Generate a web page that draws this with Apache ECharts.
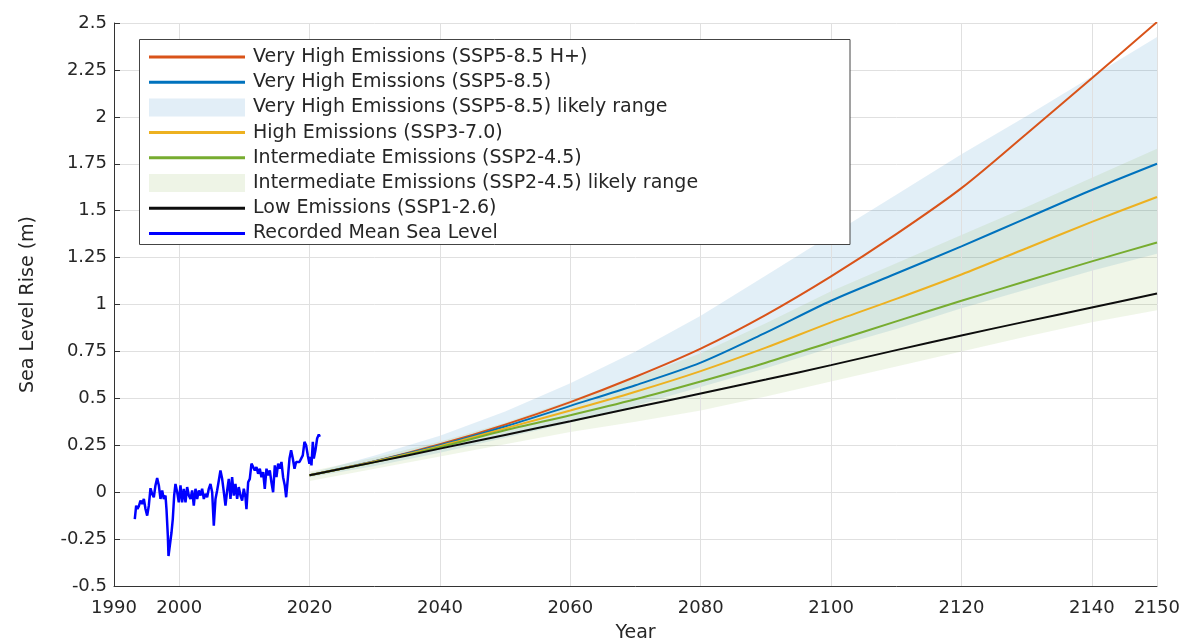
<!DOCTYPE html>
<html>
<head>
<meta charset="utf-8">
<script src="https://cdn.jsdelivr.net/npm/echarts@6.0.0/dist/echarts.min.js"></script>
<style>
html,body{margin:0;padding:0;background:#fff;}
#chart{width:1184px;height:643px;}
</style>
</head>
<body>
<div id="chart"></div>
<script>
// ---------- data ----------
const xTickLabels = [1990, 2000, 2020, 2040, 2060, 2080, 2100, 2120, 2140, 2150];
const yTickLabels = [-0.5, -0.25, 0, 0.25, 0.5, 0.75, 1, 1.25, 1.5, 1.75, 2, 2.25, 2.5];
const gridYears = [2000, 2020, 2040, 2060, 2080, 2100, 2120, 2140, 2150];

const projYears = [2020, 2030, 2040, 2050, 2060, 2070, 2080, 2090, 2100, 2110, 2120, 2130, 2140, 2150];
const ssp585Hplus = [0.09, 0.165, 0.255, 0.36, 0.48, 0.615, 0.765, 0.945, 1.15, 1.375, 1.62, 1.91, 2.205, 2.505];
const ssp585      = [0.09, 0.165, 0.25, 0.35, 0.46, 0.57, 0.69, 0.85, 1.02, 1.165, 1.31, 1.46, 1.61, 1.75];
const ssp370      = [0.09, 0.163, 0.245, 0.34, 0.435, 0.535, 0.645, 0.77, 0.905, 1.03, 1.16, 1.30, 1.44, 1.573];
const ssp245      = [0.09, 0.16, 0.24, 0.33, 0.41, 0.495, 0.59, 0.69, 0.80, 0.91, 1.02, 1.125, 1.23, 1.33];
const ssp126      = [0.09, 0.16, 0.232, 0.305, 0.378, 0.452, 0.526, 0.60, 0.677, 0.757, 0.835, 0.91, 0.984, 1.059];

const ssp585Low   = [0.08, 0.14, 0.21, 0.29, 0.37, 0.46, 0.56, 0.66, 0.77, 0.87, 0.98, 1.08, 1.18, 1.27];
const ssp585High  = [0.10, 0.195, 0.30, 0.43, 0.58, 0.75, 0.94, 1.155, 1.37, 1.585, 1.80, 2.005, 2.215, 2.425];
const ssp245Low   = [0.06, 0.125, 0.19, 0.255, 0.32, 0.375, 0.435, 0.51, 0.59, 0.67, 0.75, 0.83, 0.905, 0.97];
const ssp245High  = [0.11, 0.185, 0.27, 0.37, 0.49, 0.61, 0.74, 0.90, 1.07, 1.22, 1.37, 1.52, 1.675, 1.83];

const recYears = [1993.19,1993.40,1993.60,1993.81,1994.06,1994.32,1994.58,1994.83,1995.09,1995.34,1995.60,1995.85,
  1996.11,1996.36,1996.62,1996.88,1997.13,1997.39,1997.64,1997.90,1998.05,1998.26,1998.36,1998.56,1998.82,1999.02,
  1999.23,1999.43,1999.69,1999.94,2000.20,2000.45,2000.71,2000.97,2001.22,2001.48,2001.73,2001.99,2002.24,2002.50,
  2002.76,2003.01,2003.27,2003.52,2003.78,2004.03,2004.29,2004.54,2004.80,2005.06,2005.31,2005.57,2005.82,2006.08,
  2006.33,2006.59,2006.85,2007.10,2007.36,2007.61,2007.87,2008.12,2008.38,2008.63,2008.89,2009.14,2009.40,2009.66,
  2009.91,2010.17,2010.32,2010.58,2010.83,2011.09,2011.34,2011.60,2011.85,2012.11,2012.37,2012.62,2012.88,2013.13,
  2013.39,2013.64,2013.90,2014.15,2014.41,2014.67,2014.92,2015.18,2015.43,2015.69,2015.94,2016.20,2016.41,2016.66,
  2016.92,2017.17,2017.43,2017.69,2017.94,2018.20,2018.45,2018.71,2018.96,2019.22,2019.47,2019.73,2019.98,2020.14,
  2020.29,2020.50,2020.65,2020.90,2021.16,2021.42,2021.57];
const recValues = [-0.143,-0.072,-0.090,-0.075,-0.045,-0.063,-0.036,-0.090,-0.125,-0.072,0.021,-0.009,
  -0.027,0.036,0.075,0.036,-0.036,0.009,-0.036,-0.018,-0.090,-0.233,-0.340,-0.286,-0.215,-0.143,
  -0.018,0.044,0.0,-0.054,0.036,-0.054,0.018,-0.054,0.027,-0.018,-0.036,0.009,-0.072,0.018,
  -0.036,0.009,-0.018,0.018,-0.036,-0.009,-0.027,0.018,0.044,0.0,-0.179,-0.036,0.009,0.062,
  0.116,0.071,0.0,-0.072,0.009,0.071,-0.036,0.080,-0.018,0.044,-0.036,0.027,-0.018,-0.045,
  0.018,-0.027,-0.090,0.053,0.071,0.152,0.161,0.116,0.134,0.098,0.125,0.080,0.107,0.018,
  0.125,0.089,0.116,0.053,0.0,0.143,0.080,0.152,0.125,0.161,0.080,0.036,-0.027,0.071,
  0.179,0.223,0.179,0.125,0.161,0.170,0.161,0.179,0.196,0.268,0.250,0.196,0.152,0.188,
  0.143,0.268,0.179,0.223,0.286,0.307,0.295];

const names = {
  hplus: 'Very High Emissions (SSP5-8.5 H+)',
  s585: 'Very High Emissions (SSP5-8.5)',
  s585r: 'Very High Emissions (SSP5-8.5) likely range',
  s370: 'High Emissions (SSP3-7.0)',
  s245: 'Intermediate Emissions (SSP2-4.5)',
  s245r: 'Intermediate Emissions (SSP2-4.5) likely range',
  s126: 'Low Emissions (SSP1-2.6)',
  rec: 'Recorded Mean Sea Level'
};

// ---------- build ----------
const pairs = (xs, ys) => xs.map((x, i) => [x, ys[i]]);
const FONT = 'DejaVu Sans';
const TXT = '#262626';
const colors = {
  hplus: '#D95319', s585: '#0072BD', s370: '#EDB120', s245: '#77AC30', s126: '#0d0d0d', rec: '#0000FF',
  s585r: 'rgba(0,114,189,0.115)', s245r: 'rgba(119,172,48,0.11)'
};
const SMOOTH = 0.3;

function lineSeries(name, ys, color) {
  return {
    name, type: 'line', data: pairs(projYears, ys), color, symbol: 'none', smooth: SMOOTH,
    lineStyle: { width: 2, color }, z: 5, silent: true
  };
}
function bandSeries(key, lo, hi) {
  return {
    name: names[key], type: 'custom', color: colors[key], z: 3, silent: true, clip: true,
    data: [[projYears[0], lo[0]]],
    renderItem: function (params, api) {
      const top = projYears.map((x, i) => api.coord([x, hi[i]]));
      const bottom = projYears.map((x, i) => api.coord([x, lo[i]])).reverse();
      return {
        type: 'polygon', silent: true,
        shape: { points: top.concat(bottom) },
        style: { fill: colors[key], stroke: null }
      };
    }
  };
}

const LINE_ICON = 'path://M0,0H96V3H0Z';
const legendData = [
  { name: names.hplus, icon: LINE_ICON, itemStyle: { color: colors.hplus, borderWidth: 0 } },
  { name: names.s585, icon: LINE_ICON, itemStyle: { color: colors.s585, borderWidth: 0 } },
  { name: names.s585r, icon: 'rect', itemStyle: { color: '#e2eef7', borderWidth: 0 } },
  { name: names.s370, icon: LINE_ICON, itemStyle: { color: colors.s370, borderWidth: 0 } },
  { name: names.s245, icon: LINE_ICON, itemStyle: { color: colors.s245, borderWidth: 0 } },
  { name: names.s245r, icon: 'rect', itemStyle: { color: '#eef4e6', borderWidth: 0 } },
  { name: names.s126, icon: LINE_ICON, itemStyle: { color: colors.s126, borderWidth: 0 } },
  { name: names.rec, icon: LINE_ICON, itemStyle: { color: colors.rec, borderWidth: 0 } }
];

const chart = echarts.init(document.getElementById('chart'), null, { renderer: 'canvas' });
const option = {
  animation: false,
  backgroundColor: '#ffffff',
  grid: { left: 114, right: 27, top: 23, bottom: 57, containLabel: false, outerBoundsMode: 'none' },
  xAxis: {
    type: 'value', min: 1990, max: 2150,
    name: 'Year', nameLocation: 'middle', nameGap: 38,
    nameTextStyle: { fontFamily: FONT, fontSize: 19, color: TXT },
    axisLine: { show: true, onZero: false, lineStyle: { color: '#333', width: 1 } },
    axisTick: { show: true, inside: true, length: 6, customValues: xTickLabels, lineStyle: { color: '#333' } },
    axisLabel: { customValues: xTickLabels, fontFamily: FONT, fontSize: 18, color: TXT, margin: 13,
      formatter: v => String(v) },
    splitLine: { show: false }
  },
  yAxis: {
    type: 'value', min: yTickLabels[0], max: yTickLabels[yTickLabels.length - 1], interval: 0.25,
    name: 'Sea Level Rise (m)', nameLocation: 'middle', nameGap: 76, nameRotate: 90,
    nameTextStyle: { fontFamily: FONT, fontSize: 19, color: TXT },
    axisLine: { show: true, onZero: false, lineStyle: { color: '#333', width: 1 } },
    axisTick: { show: true, inside: true, length: 6, lineStyle: { color: '#333' } },
    axisLabel: { fontFamily: FONT, fontSize: 18, color: TXT, margin: 7, formatter: v => String(+v.toFixed(2)) },
    splitLine: { show: true, lineStyle: { color: '#e0e0e0', width: 1 } }
  },
  legend: {
    orient: 'vertical', left: 149, top: 47.5, padding: 0, z: 20,
    itemWidth: 96, itemHeight: 18, itemGap: 6.2, selectedMode: false, symbolKeepAspect: true,
    textStyle: { fontFamily: FONT, fontSize: 19, color: TXT, lineHeight: 18, padding: [0, 0, 0, 3] },
    data: legendData
  },
  graphic: [{
    type: 'rect', z: 10, silent: true,
    shape: { x: 139.5, y: 39.5, width: 710.5, height: 205 },
    style: { fill: '#ffffff', stroke: '#444', lineWidth: 1 }
  }],
  series: [
    { name: '_grid', type: 'line', data: [], silent: true, z: 1,
      markLine: { silent: true, symbol: 'none', label: { show: false }, animation: false,
        lineStyle: { color: '#e0e0e0', width: 1, type: 'solid' },
        data: gridYears.map(y => ({ xAxis: y })) } },
    bandSeries('s585r', ssp585Low, ssp585High),
    bandSeries('s245r', ssp245Low, ssp245High),
    lineSeries(names.hplus, ssp585Hplus, colors.hplus),
    lineSeries(names.s585, ssp585, colors.s585),
    lineSeries(names.s370, ssp370, colors.s370),
    lineSeries(names.s245, ssp245, colors.s245),
    lineSeries(names.s126, ssp126, colors.s126),
    { name: names.rec, type: 'line', data: pairs(recYears, recValues), color: colors.rec, symbol: 'none',
      lineStyle: { width: 2.5, color: colors.rec }, z: 6, silent: true }
  ]
};
chart.setOption(option);
</script>
</body>
</html>
